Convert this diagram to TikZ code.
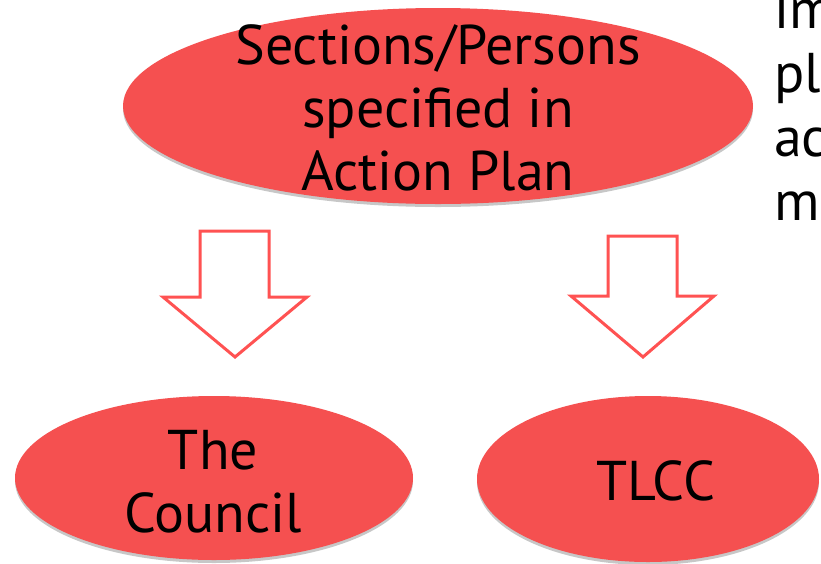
\documentclass[tikz,border=0pt]{standalone}
\usepackage{fontspec}
\setmainfont{PT Sans}
\usetikzlibrary{shapes.geometric,shadows}
\definecolor{blobred}{RGB}{245,80,80}
\definecolor{arrowred}{RGB}{255,82,82}
\tikzset{
  blob/.style={ellipse, fill=blobred, draw=none, inner sep=0pt,
    drop shadow={shadow xshift=0pt, shadow yshift=-3pt, opacity=0.22, fill=black}},
  lbl/.style={font=\fontsize{56}{63}\selectfont, text=black, align=center, anchor=base, inner sep=0pt},
  sidetext/.style={font=\fontsize{56}{63}\selectfont, text=black, align=left, anchor=base west, inner sep=0pt},
  blockarrow/.style={draw=arrowred, line width=3pt, fill=white, line join=miter}
}
\begin{document}
\begin{tikzpicture}[x=1pt,y=-1pt]
\useasboundingbox (0,0) rectangle (821,563);
\begin{scope}
\clip (0,0) rectangle (821,563);
% ellipses
\node[blob, minimum width=630pt, minimum height=196pt] (top) at (438,106) {};
\node[blob, minimum width=398pt, minimum height=164pt] (council) at (214,478) {};
\node[blob, minimum width=342pt, minimum height=166pt] (tlcc) at (648,479) {};
% labels (base anchor = baseline of last line)
\node[lbl] (toplbl) at (438,190) {Sections/Persons\\specified in\\Action Plan};
\node[lbl] (councillbl) at (213,532) {The\\Council};
\node[lbl] (tlcclbl) at (656,500) {TLCC};
% partial text at right edge
\node[sidetext] (side1) at (774,28) {im};
\node[sidetext] (side2) at (774,92) {pl};
\node[sidetext] (side3) at (774,156) {ac};
\node[sidetext] (side4) at (774,220) {me};
\end{scope}
% block arrows
\draw[blockarrow] (200,231) -- (269,231) -- (269,297) -- (307,297) -- (235,357) -- (163,297) -- (200,297) -- cycle;
\draw[blockarrow] (608,236) -- (677,236) -- (677,296) -- (714,296) -- (643,357) -- (571,296) -- (608,296) -- cycle;
\end{tikzpicture}
\end{document}
